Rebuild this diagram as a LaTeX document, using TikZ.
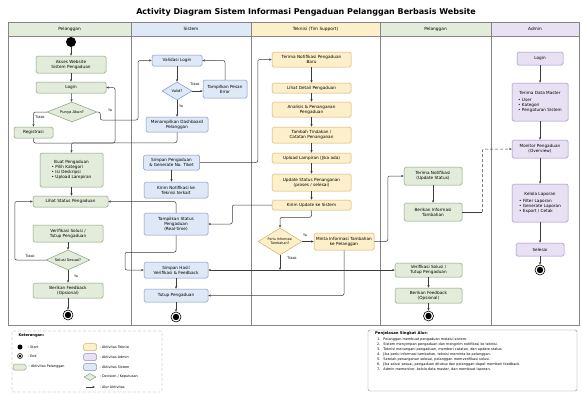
\documentclass[tikz,border=0pt]{standalone}
\usepackage{fontspec}
\setmainfont{DejaVu Sans}
\usetikzlibrary{shapes.geometric,arrows.meta,calc}
\definecolor{pelfill}{HTML}{E3ECDA}
\definecolor{pelline}{HTML}{87A077}
\definecolor{sisfill}{HTML}{DEE8F6}
\definecolor{sisline}{HTML}{7896C2}
\definecolor{tekfill}{HTML}{FDEFC9}
\definecolor{tekline}{HTML}{D2B064}
\definecolor{admfill}{HTML}{E8E1F3}
\definecolor{admline}{HTML}{9A8ABF}
\definecolor{edgec}{HTML}{3C3C3C}
\definecolor{framec}{HTML}{858585}
\begin{document}
\begin{tikzpicture}[x=1pt,y=-1pt,
  boxbase/.style={rounded corners=1.6pt, line width=0.5pt, align=center, inner sep=0.8pt,
     font=\fontsize{4.2}{5}\selectfont},
  pel/.style={boxbase, fill=pelfill, draw=pelline},
  sis/.style={boxbase, fill=sisfill, draw=sisline},
  tek/.style={boxbase, fill=tekfill, draw=tekline},
  adm/.style={boxbase, fill=admfill, draw=admline},
  decbase/.style={diamond, line width=0.5pt, inner sep=0pt, align=center, aspect=2.4,
     font=\fontsize{3.7}{4.4}\selectfont},
  pdec/.style={decbase, fill=pelfill, draw=pelline},
  sdec/.style={decbase, fill=sisfill, draw=sisline},
  tdec/.style={decbase, fill=tekfill, draw=tekline},
  arr/.style={draw=edgec, line width=0.5pt, rounded corners=2pt, -{Stealth[length=2.6pt,width=2.2pt]}},
  plain/.style={draw=edgec, line width=0.5pt, rounded corners=2pt},
  lbl/.style={font=\fontsize{3.4}{4}\selectfont, inner sep=0.3pt},
  startdot/.style={circle, fill=black, minimum size=10pt, inner sep=0pt},
  enddot/.style={circle, draw=black, line width=0.6pt, fill=white, minimum size=10pt, inner sep=0pt,
     path picture={\fill[black] (path picture bounding box.center) circle (3.2pt);}},
  hdr/.style={font=\fontsize{4.3}{5}\selectfont}
]
\useasboundingbox (0,0) rectangle (582,394);
\fill[white] (0,0) rectangle (582,394);

% title
\node[font=\fontsize{8}{9}\selectfont\bfseries] (title) at (306,12) {Activity Diagram Sistem Informasi Pengaduan Pelanggan Berbasis Website};

% swimlanes
\fill[pelfill] (8,22) rectangle (131,36);
\fill[sisfill] (131,22) rectangle (251,36);
\fill[tekfill] (251,22) rectangle (380,36);
\fill[pelfill] (380,22) rectangle (491,36);
\fill[admfill] (491,22) rectangle (579,36);
\draw[framec, line width=0.55pt] (8,22) rectangle (579,325);
\draw[framec, line width=0.55pt] (8,36) -- (579,36);
\foreach \xx in {131,251,380,491} \draw[framec, line width=0.55pt] (\xx,22) -- (\xx,325);
\node[hdr] (h1) at (69.5,29) {Pelanggan};
\node[hdr] (h2) at (191,29) {Sistem};
\node[hdr] (h3) at (315.5,29) {Teknisi (Tim Support)};
\node[hdr] (h4) at (435.5,29) {Pelanggan};
\node[hdr] (h5) at (535,29) {Admin};

% ---------- Lane 1: Pelanggan ----------
\node[startdot] (start) at (71,42) {};
\node[pel, minimum width=70pt, minimum height=17pt] (akses) at (71,64.5) {Akses Website\\Sistem Pengaduan};
\node[pel, minimum width=70pt, minimum height=11pt] (login) at (71,87.5) {Login};
\node[pdec, minimum width=50pt, minimum height=20pt] (punya) at (72,112) {Punya Akun?};
\node[pel, minimum width=39pt, minimum height=11pt] (registrasi) at (33.5,132.5) {Registrasi};
\node[pel, minimum width=63pt, minimum height=34pt] (buat) at (71.5,170)
  {\begin{tabular}{@{}l@{}}\multicolumn{1}{@{}c@{}}{Buat Pengaduan}\\[0.6pt] • Pilih Kategori\\ • Isi Deskripsi\\ • Upload Lampiran\end{tabular}};
\node[pel, minimum width=75pt, minimum height=11pt] (lihat) at (70.5,201.5) {Lihat Status Pengaduan};
\node[pel, minimum width=70pt, minimum height=17pt] (verif1) at (68,233.5) {Verifikasi Solusi /\\Tutup Pengaduan};
\node[pdec, minimum width=44pt, minimum height=20pt] (solusi) at (68,260) {Solusi Sesuai?};
\node[pel, minimum width=70pt, minimum height=15pt] (feedback1) at (68,290.5) {Berikan Feedback\\(Opsional)};
\node[enddot] (end1) at (68,315) {};

% ---------- Lane 2: Sistem ----------
\node[sis, minimum width=50pt, minimum height=11pt] (validasi) at (177,60.5) {Validasi Login};
\node[sdec, minimum width=30pt, minimum height=18pt] (valid) at (177,91) {Valid?};
\node[sis, minimum width=44pt, minimum height=18pt] (error) at (225,89) {Tampilkan Pesan\\Error};
\node[sis, minimum width=62pt, minimum height=15pt] (dashboard) at (177,124.5) {Menampilkan Dashboard\\Pelanggan};
\node[sis, minimum width=56pt, minimum height=15pt] (simpan) at (171.5,162.5) {Simpan Pengaduan\\\& Generate No. Tiket};
\node[sis, minimum width=64pt, minimum height=16pt] (kirim) at (176,190) {Kirim Notifikasi ke\\Teknisi terkait};
\node[sis, minimum width=64pt, minimum height=22pt] (tampil) at (176,224) {Tampilkan Status\\Pengaduan\\(Real-time)};
\node[sis, minimum width=64pt, minimum height=16pt] (simpanhasil) at (176,270) {Simpan Hasil\\Verifikasi \& Feedback};
\node[sis, minimum width=64pt, minimum height=13pt] (tutup) at (176,295.5) {Tutup Pengaduan};
\node[enddot] (end2) at (176,317) {};

% ---------- Lane 3: Teknisi ----------
\node[tek, minimum width=79pt, minimum height=15pt] (terima) at (311.5,59.5) {Terima Notifikasi Pengaduan\\Baru};
\node[tek, minimum width=79pt, minimum height=10pt] (lihatdet) at (311.5,88) {Lihat Detail Pengaduan};
\node[tek, minimum width=79pt, minimum height=15pt] (analisis) at (311.5,109.5) {Analisis \& Penanganan\\Pengaduan};
\node[tek, minimum width=79pt, minimum height=16pt] (tambah) at (311.5,135) {Tambah Tindakan /\\Catatan Penanganan};
\node[tek, minimum width=79pt, minimum height=10pt] (upload) at (311.5,158) {Upload Lampiran (Jika ada)};
\node[tek, minimum width=79pt, minimum height=17pt] (update) at (311.5,182.5) {Update Status Penanganan\\(proses / selesai)};
\node[tek, minimum width=79pt, minimum height=10pt] (kirimupd) at (311.5,205) {Kirim Update ke Sistem};
\node[tdec, minimum width=44pt, minimum height=27pt, aspect=1.6, font=\fontsize{3.3}{4}\selectfont] (perlu) at (280,241.5) {Perlu Informasi\\Tambahan?};
\node[tek, minimum width=60pt, minimum height=17pt] (minta) at (344,241.5) {Minta Informasi Tambahan\\ke Pelanggan};

% ---------- Lane 4: Pelanggan ----------
\node[pel, minimum width=58pt, minimum height=18pt] (terimaupd) at (433,176) {Terima Notifikasi\\(Update Status)};
\node[pel, minimum width=58pt, minimum height=18pt] (berikaninfo) at (433,212) {Berikan Informasi\\Tambahan};
\node[pel, minimum width=67pt, minimum height=14pt] (verif2) at (428.5,270) {Verifikasi Solusi /\\Tutup Pengaduan};
\node[pel, minimum width=67pt, minimum height=15pt] (feedback2) at (428.5,295.5) {Berikan Feedback\\(Opsional)};
\node[enddot] (end4) at (428.5,316) {};

% ---------- Lane 5: Admin ----------
\node[adm, minimum width=46pt, minimum height=13pt] (alogin) at (540,58.5) {Login};
\node[adm, minimum width=56pt, minimum height=38pt] (datamaster) at (540,102)
  {\begin{tabular}{@{}l@{}}\multicolumn{1}{@{}c@{}}{Terima Data Master}\\[1.5pt] • User\\ • Kategori\\ • Pengaturan Sistem\end{tabular}};
\node[adm, minimum width=56pt, minimum height=18pt] (monitor) at (540,149) {Monitor Pengaduan\\(Overview)};
\node[adm, minimum width=56pt, minimum height=38pt] (kelola) at (540,203)
  {\begin{tabular}{@{}l@{}}\multicolumn{1}{@{}c@{}}{Kelola Laporan}\\[1.5pt] • Filter Laporan\\ • Generate Laporan\\ • Export / Cetak\end{tabular}};
\node[adm, minimum width=48pt, minimum height=13pt] (selesai) at (540,249.5) {Selesai};
\node[enddot] (end5) at (540,270) {};

% ---------- connectors lane 1 ----------
\draw[arr] (start) -- (akses);
\draw[arr] (akses) -- (login);
\draw[arr] (login) -- (punya);
\draw[arr] (punya.west) -| (registrasi.north);
\node[lbl] (ltidak1) at (40,117) {Tidak};
\draw[arr] (punya.east) -- ++(3,0) |- (138,120) |- (validasi.west);
\node[lbl] (lya1) at (110,110) {Ya};
\draw[arr] (registrasi.south) |- (115,143) |- (login.east);
\draw[arr] (dashboard.south) |- ([yshift=10pt]buat.north) -- (buat.north);
\draw[arr] (buat.south) -- (lihat.north -| buat.south);
\draw[arr] (verif1) -- (solusi);
\draw[arr] (solusi) -- (feedback1);
\node[lbl] (lya2) at (76,276) {Ya};
\draw[arr] (solusi.west) -| ([xshift=-18pt]lihat.west) -- (lihat.west);
\node[lbl] (ltidak2) at (30,256) {Tidak};
\draw[arr] (feedback1) -- (end1);

% ---------- connectors lane 2 ----------
\draw[arr] (validasi) -- (valid);
\draw[arr] (valid) -- (error.west |- valid);
\node[lbl] (ltidak3) at (195,84) {Tidak};
\draw[arr] (error.north) |- (validasi.east);
\draw[arr] (valid) -- (dashboard);
\node[lbl] (lya3) at (181,106) {Ya};
\draw[arr] (simpan.south) -- (simpan.south |- kirim.north);
\draw[arr] (simpan.east) -| ([xshift=-14pt]terima.west) -- (terima.west);
\draw[arr] (tampil.north) |- (lihat.east);
\draw[arr] (tampil.south) -- ++(0,17) -| (125,270) -- (simpanhasil.west);
\draw[arr] (simpanhasil) -- (tutup);
\draw[arr] (tutup) -- (end2);

% ---------- connectors lane 3 ----------
\draw[arr] (terima) -- (lihatdet);
\draw[arr] (lihatdet) -- (analisis);
\draw[arr] (analisis) -- (tambah);
\draw[arr] (tambah) -- (upload);
\draw[arr] (upload) -- (update);
\draw[arr] (update) -- (kirimupd);
\draw[arr] (kirimupd.south) -- ++(0,7) -| (perlu.north);
\draw[arr] (kirimupd.west) -| ([xshift=24pt]tampil.east) -- (tampil.east);
\draw[arr] (perlu.east) -- (minta.west);
\node[lbl] (lya4) at (305,235) {Ya};
\coordinate (tj) at (perlu.south |- verif2.west);
\draw[arr] (perlu.south) -- (tj);
\node[lbl] (ltidak4) at (292,258) {Tidak};
\draw[arr] (tj) -- (verif2.west);
\draw[arr] (tj) -- (simpanhasil.east);
\draw[arr] (minta.east) -| ([xshift=-16pt]terimaupd.west) -- (terimaupd.west);
\draw[arr] (minta.south) |- (tutup.east);

% ---------- connectors lane 4 ----------
\draw[arr] (terimaupd) -- (berikaninfo);
\coordinate (bend) at ([xshift=20pt]berikaninfo.east);
\draw[plain] (berikaninfo.east) -- (bend);
\draw[arr, densely dashed] (bend) |- (monitor.west);
\draw[arr] (verif2) -- (feedback2);
\draw[arr] (feedback2) -- (end4);

% ---------- connectors lane 5 ----------
\draw[arr] (alogin) -- (datamaster);
\draw[arr] (datamaster) -- (monitor);
\draw[arr] (monitor) -- (kelola);
\draw[arr] (kelola) -- (selesai);
\draw[arr] (selesai) -- (end5);

% ---------- legend ----------
\draw[framec, densely dashed, line width=0.4pt, rounded corners=1pt] (12,331) rectangle (162,392);
\node[font=\fontsize{3.7}{4.3}\selectfont\bfseries, anchor=west] (legtitle) at (15,336) {Keterangan:};
\node[circle, fill=black, minimum size=5pt, inner sep=0pt] (lgstart) at (20,347) {};
\node[lbl, anchor=west] (lgstartt) at (27,347) {: Start};
\node[circle, draw=black, line width=0.5pt, minimum size=5pt, inner sep=0pt,
  path picture={\fill[black] (path picture bounding box.center) circle (1.5pt);}] (lgend) at (20,356) {};
\node[lbl, anchor=west] (lgendt) at (27,356) {: End};
\node[pel, minimum width=13pt, minimum height=6pt, inner sep=0pt] (lgpel) at (19.5,367) {};
\node[lbl, anchor=west] (lgpelt) at (28,367) {: Aktivitas Pelanggan};
\node[tek, minimum width=13pt, minimum height=7pt, inner sep=0pt] (lgtek) at (90,347) {};
\node[lbl, anchor=west] (lgtekt) at (99,347) {: Aktivitas Teknisi};
\node[adm, minimum width=13pt, minimum height=7pt, inner sep=0pt] (lgadm) at (90,357) {};
\node[lbl, anchor=west] (lgadmt) at (99,357) {: Aktivitas Admin};
\node[sis, minimum width=13pt, minimum height=7pt, inner sep=0pt] (lgsis) at (90,367) {};
\node[lbl, anchor=west] (lgsist) at (99,367) {: Aktivitas Sistem};
\node[pdec, minimum width=12pt, minimum height=7pt] (lgdec) at (90,377) {};
\node[lbl, anchor=west] (lgdect) at (99,377) {: Decision / Keputusan};
\coordinate (lgarra) at (86,387);
\coordinate (lgarrb) at (95,387);
\draw[arr] (lgarra) -- (lgarrb);
\node[lbl, anchor=west] (lgarrt) at (99,387) {: Alur Aktivitas};

% ---------- explanation ----------
\draw[framec, line width=0.4pt, rounded corners=2pt] (368,330) rectangle (577,391);
\node[anchor=north west, inner sep=0pt, font=\fontsize{3.45}{5}\selectfont, align=left] (expl) at (375,331.5)
 {{\fontsize{3.8}{5}\selectfont\bfseries Penjelasan Singkat Alur:}\\[0.6pt]
  \begin{tabular}{@{\hspace{2pt}}l@{\hspace{3pt}}l@{}}
  1. & Pelanggan membuat pengaduan melalui sistem.\\
  2. & Sistem menyimpan pengaduan dan mengirim notifikasi ke teknisi.\\
  3. & Teknisi menangani pengaduan, memberi catatan, dan update status.\\
  4. & Jika perlu informasi tambahan, teknisi meminta ke pelanggan.\\
  5. & Setelah penanganan selesai, pelanggan memverifikasi solusi.\\
  6. & Jika solusi sesuai, pengaduan ditutup dan pelanggan dapat memberi feedback.\\
  7. & Admin memonitor, kelola data master, dan membuat laporan.
  \end{tabular}};
\end{tikzpicture}
\end{document}
